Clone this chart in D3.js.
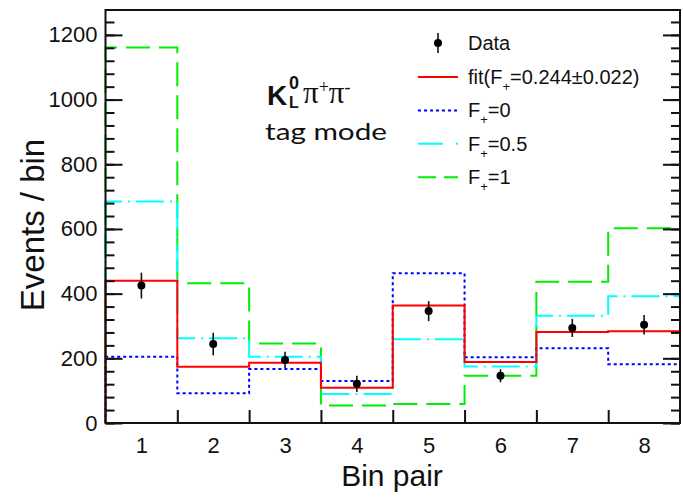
<!DOCTYPE html>
<html>
<head>
<meta charset="utf-8">
<script src="https://cdn.jsdelivr.net/npm/d3@7"></script>
<style>
  body { margin: 0; background: #fff; }
  text { font-family: "Liberation Sans", Arial, sans-serif; fill: #111; }
</style>
</head>
<body>
<div id="chart"></div>
<script>
// Chart values
var bins = [1, 2, 3, 4, 5, 6, 7, 8];
var dataVals = [425, 244, 195, 121, 346, 146, 294, 304];
var dataErr = [40, 35, 25, 25, 31, 20, 28, 30];
var fitVals = [440, 174, 186, 109, 363, 189, 281, 284];
var f0Vals = [205, 92, 167, 130, 463, 203, 231, 182];
var f05Vals = [685, 262, 205, 90, 259, 175, 332, 392];
var f1Vals = [1161, 432, 246, 54, 59, 146, 437, 602];
var yTicks = [0, 200, 400, 600, 800, 1000, 1200];

var width = 683, height = 497;

var svg = d3.select("#chart").append("svg")
  .attr("width", width)
  .attr("height", height);

var x = d3.scaleLinear().domain([0.5, 8.5]).range([105.5, 680]);
var y = d3.scaleLinear().domain([0, 1277]).range([423, 10]);

// histogram outline as a step path, starting and ending at zero
function stepPoints(vals) {
  var pts = [[0.5, 0]];
  vals.forEach(function(v, i) { pts.push([bins[i] - 0.5, v]); });
  pts.push([8.5, vals[vals.length - 1]]);
  pts.push([8.5, 0]);
  return pts;
}
var line = d3.line()
  .x(function(d) { return x(d[0]); })
  .y(function(d) { return y(d[1]); })
  .curve(d3.curveStepAfter);

var series = [
  { vals: f1Vals, color: "#00ee00", dash: "24,9", w: 2 },
  { vals: f05Vals, color: "#00ffff", dash: "28,6,2,6", w: 2 },
  { vals: f0Vals, color: "#0000ff", dash: "3,3", w: 2 },
  { vals: fitVals, color: "#ff0000", dash: null, w: 2 }
];

series.forEach(function(s) {
  svg.append("path")
    .attr("d", line(stepPoints(s.vals)))
    .attr("fill", "none")
    .attr("stroke", s.color)
    .attr("stroke-width", s.w)
    .attr("stroke-dasharray", s.dash);
});

// data points with error bars
var pts = svg.append("g").selectAll(".dot")
  .data(bins)
  .enter().append("g");
pts.append("line")
  .attr("x1", function(d) { return x(d); })
  .attr("x2", function(d) { return x(d); })
  .attr("y1", function(d, i) { return y(dataVals[i] - dataErr[i]); })
  .attr("y2", function(d, i) { return y(dataVals[i] + dataErr[i]); })
  .attr("stroke", "#111")
  .attr("stroke-width", 1.6);
pts.append("circle")
  .attr("cx", function(d) { return x(d); })
  .attr("cy", function(d, i) { return y(dataVals[i]); })
  .attr("r", 4)
  .attr("fill", "#000");

// axes
var minor = d3.range(0, 1277, 40);
function styleLines(g) { g.selectAll("line").attr("stroke-width", 2).attr("stroke", "#111"); }

svg.append("g")
  .attr("transform", "translate(105.5,0)")
  .call(d3.axisLeft(y).tickValues(yTicks).tickSizeInner(-17).tickSizeOuter(0).tickPadding(8).tickFormat(d3.format("d")))
  .call(function(g) { g.select(".domain").remove(); })
  .call(function(g) { g.selectAll("text").style("font-size", "22px").attr("fill", "#111"); })
  .call(styleLines);
svg.append("g")
  .attr("transform", "translate(105.5,0)")
  .call(d3.axisLeft(y).tickValues(minor).tickSizeInner(-9).tickSizeOuter(0).tickFormat(""))
  .call(function(g) { g.select(".domain").remove(); })
  .call(styleLines);

// right side ticks
svg.append("g")
  .attr("transform", "translate(680,0)")
  .call(d3.axisLeft(y).tickValues(yTicks).tickSizeInner(17).tickSizeOuter(0).tickFormat(""))
  .call(function(g) { g.select(".domain").remove(); })
  .call(styleLines);
svg.append("g")
  .attr("transform", "translate(680,0)")
  .call(d3.axisLeft(y).tickValues(minor).tickSizeInner(9).tickSizeOuter(0).tickFormat(""))
  .call(function(g) { g.select(".domain").remove(); })
  .call(styleLines);

// bottom ticks at bin edges, labels at bin centres
svg.append("g")
  .attr("transform", "translate(0,423)")
  .call(d3.axisBottom(x).tickValues([1.5, 2.5, 3.5, 4.5, 5.5, 6.5, 7.5]).tickSizeInner(-13).tickSizeOuter(0).tickFormat(""))
  .call(function(g) { g.select(".domain").remove(); })
  .call(styleLines);
svg.append("g")
  .attr("transform", "translate(0,423)")
  .call(d3.axisBottom(x).tickValues(bins).tickSize(0).tickPadding(14).tickFormat(d3.format("d")))
  .call(function(g) { g.select(".domain").remove(); })
  .call(function(g) { g.selectAll("text").style("font-size", "22px").attr("fill", "#111"); });

// frame
svg.append("rect")
  .attr("x", 105.5).attr("y", 10)
  .attr("width", 680 - 105.5).attr("height", 413)
  .attr("fill", "none")
  .attr("stroke", "#111")
  .attr("stroke-width", 2);

// axis titles
svg.append("text")
  .attr("transform", "translate(44,225) rotate(-90)")
  .attr("text-anchor", "middle")
  .style("font-size", "33px")
  .text("Events / bin");
svg.append("text")
  .attr("x", 392).attr("y", 486)
  .attr("text-anchor", "middle")
  .style("font-size", "30px")
  .text("Bin pair");

// mode label
var title = svg.append("g");
title.append("text").attr("x", 267).attr("y", 105)
  .style("font-size", "28px").style("font-weight", "bold").text("K");
title.append("text").attr("x", 289).attr("y", 89)
  .style("font-size", "18px").style("font-weight", "bold").text("0");
title.append("text").attr("x", 289).attr("y", 108)
  .style("font-size", "16px").style("font-weight", "bold").text("L");
var pi = title.append("text").attr("x", 303).attr("y", 103)
  .style("font-family", "'Liberation Serif', serif").style("font-size", "31px");
pi.append("tspan").text("\u03c0");
pi.append("tspan").attr("dy", -10).style("font-size", "18px").text("+");
pi.append("tspan").attr("dy", 10).text("\u03c0");
pi.append("tspan").attr("dy", -10).style("font-size", "18px").text("-");
title.append("text").attr("x", 265).attr("y", 140)
  .style("font-family", "Lato, sans-serif").style("font-size", "24px")
  .attr("textLength", 122).attr("lengthAdjust", "spacingAndGlyphs")
  .text("tag mode");

// legend
var legendItems = [
  { pre: "fit(F", post: "=0.244\u00b10.022)", color: "#ff0000", dash: null },
  { pre: "F", post: "=0", color: "#0000ff", dash: "3,3" },
  { pre: "F", post: "=0.5", color: "#00ffff", dash: "25,13,2,13" },
  { pre: "F", post: "=1", color: "#00ee00", dash: "18,8" }
];
var lg = svg.append("g");
lg.append("line")
  .attr("x1", 438).attr("x2", 438).attr("y1", 33).attr("y2", 53)
  .attr("stroke", "#111").attr("stroke-width", 1.6);
lg.append("circle").attr("cx", 438).attr("cy", 43).attr("r", 4).attr("fill", "#000");
lg.append("text").attr("x", 468).attr("y", 50).style("font-size", "20px").text("Data");

legendItems.forEach(function(d, i) {
  var ly = 77 + i * 33.4;
  lg.append("line")
    .attr("x1", 418).attr("x2", 458).attr("y1", ly).attr("y2", ly)
    .attr("stroke", d.color).attr("stroke-width", 2)
    .attr("stroke-dasharray", d.dash);
  var t = lg.append("text").attr("x", 468).attr("y", ly + 7).style("font-size", "20px");
  t.append("tspan").text(d.pre);
  t.append("tspan").attr("dy", 7).style("font-size", "13px").text("+");
  t.append("tspan").attr("dy", -7).text(d.post);
});
</script>
</body>
</html>
